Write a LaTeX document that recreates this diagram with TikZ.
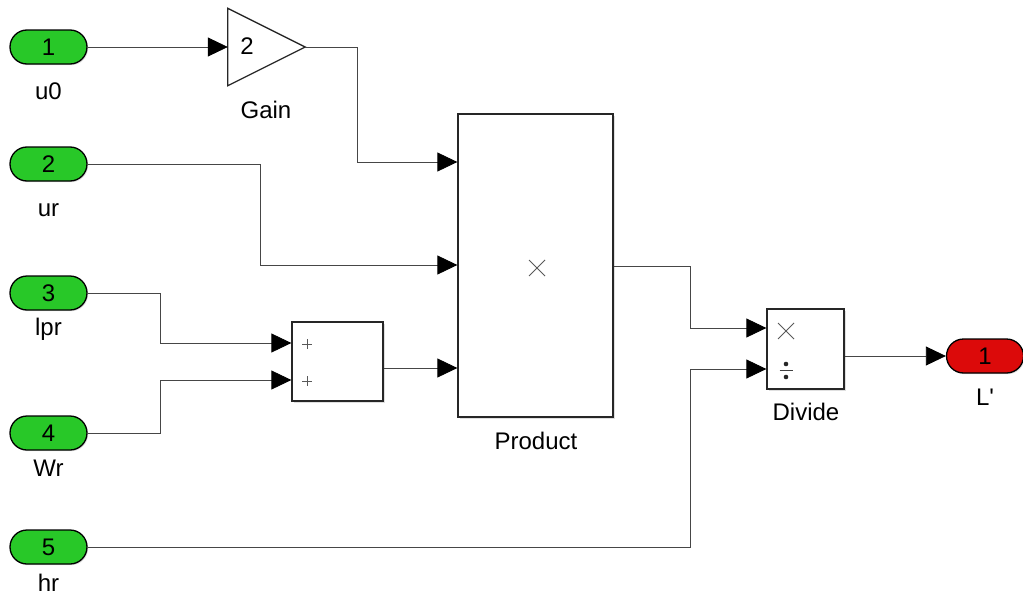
\documentclass[tikz,border=0pt]{standalone}
\usepackage{fontspec}
\setmainfont{Liberation Sans}
\usetikzlibrary{arrows.meta,shapes.misc,shadows}
\definecolor{inport}{RGB}{40,200,40}
\definecolor{outport}{RGB}{220,10,10}
\definecolor{wirec}{RGB}{70,70,70}
\begin{document}
\begin{tikzpicture}[x=1pt,y=-1pt,
  port/.style={rounded rectangle, draw=black, line width=1.3pt, minimum width=77pt, minimum height=34pt, inner sep=0pt, font=\fontsize{24}{24}\selectfont, drop shadow={opacity=0.25, shadow xshift=1.2pt, shadow yshift=-1.2pt}},
  inp/.style={port, fill=inport},
  outp/.style={port, fill=outport},
  lbl/.style={font=\fontsize{24}{24}\selectfont, inner sep=0pt},
  block/.style={draw=black!85, line width=1.3pt, fill=white, inner sep=0pt},
  shblock/.style={block, drop shadow={opacity=0.25, shadow xshift=1.5pt, shadow yshift=-1.5pt}},
  wire/.style={draw=wirec, line width=0.8pt, -{Triangle[length=20pt,width=19pt,fill=black,color=black]}},
  symline/.style={draw=black!65, line width=0.9pt}]
\useasboundingbox (0,0) rectangle (1023,605);
% inports
\node[inp] (p1) at (48.5,47) {1};
\node[inp] (p2) at (48.5,164) {2};
\node[inp] (p3) at (48.5,293) {3};
\node[inp] (p4) at (48.5,433) {4};
\node[inp] (p5) at (48.5,547) {5};
\node[lbl] (l1) at (48.5,91) {u0};
\node[lbl] (l2) at (48.5,210) {ur};
\node[lbl] (l3) at (48.5,329) {lpr};
\node[lbl] (l4) at (48.5,468) {Wr};
\node[lbl] (l5) at (48.5,583) {hr};
% gain
\node[minimum width=77pt, minimum height=77pt, inner sep=0pt] (g) at (266.5,47) {};
\draw[block] (g.north west) -- (g.east) -- (g.south west) -- cycle;
\node[font=\fontsize{24}{24}\selectfont, inner sep=0pt] (gv) at (247,46) {2};
\node[lbl] (gl) at (266,110) {Gain};
% product
\node[shblock, minimum width=155pt, minimum height=303pt] (pr) at (535.5,265.5) {};
\draw[symline] (529,260) -- (545,276) (529,276) -- (545,260);
\node[lbl] (prl) at (536,441) {Product};
% sum
\node[shblock, minimum width=91pt, minimum height=79pt] (s) at (337.5,361.5) {};
\draw[symline] (302,344) -- (312,344) (307,339) -- (307,349);
\draw[symline] (302,381) -- (312,381) (307,376) -- (307,386);
% divide
\node[shblock, minimum width=77pt, minimum height=80pt] (d) at (805.5,349) {};
\draw[symline] (778,323) -- (794,339) (778,339) -- (794,323);
\draw[black!75, line width=1pt] (779.5,370.5) -- (792.5,370.5);
\fill[black!85] (786,364) circle (2.3);
\fill[black!85] (786,377) circle (2.3);
\node[lbl] (dl) at (806,412) {Divide};
% outport
\node[outp] (o1) at (985,356) {1};
\node[lbl] (ol) at (985,397) {L\textquotesingle};
% wires
\draw[wire] (p1.east) -- (g.west);
\draw[wire] (g.east) -- (357,47) -- (357,162) -- (pr.west |- 0,162);
\draw[wire] (p2.east) -- (260,164) -- (260,265) -- (pr.west |- 0,265);
\draw[wire] (p3.east) -- (160,293) -- (160,343) -- (s.west |- 0,343);
\draw[wire] (p4.east) -- (160,433) -- (160,380) -- (s.west |- 0,380);
\draw[wire] (s.east |- 0,368) -- (pr.west |- 0,368);
\draw[wire] (pr.east |- 0,266) -- (690,266) -- (690,328) -- (d.west |- 0,328);
\draw[wire] (p5.east) -- (690,547) -- (690,369) -- (d.west |- 0,369);
\draw[wire] (d.east |- 0,356) -- (o1.west);
\end{tikzpicture}
\end{document}
